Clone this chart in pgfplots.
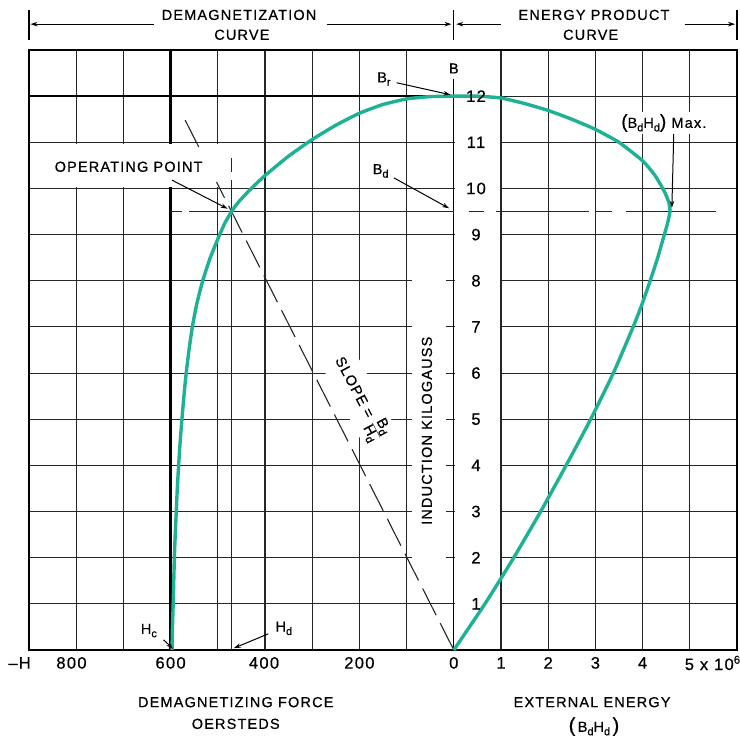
\documentclass[border=0pt]{standalone}
\usepackage{fontspec}
\setmainfont{Liberation Sans}[LetterSpace=8, FakeBold=0.6]
\usepackage{pgfplots}
\pgfplotsset{compat=1.18}
\usetikzlibrary{arrows.meta}
\definecolor{curvecol}{RGB}{30,178,148}
\newcommand\sub[1]{\raisebox{-0.45ex}{\fontsize{11}{11}\selectfont #1}}
\begin{document}
\begin{tikzpicture}[
  lab/.style={font=\fontsize{14.5}{16}\selectfont, inner sep=1pt},
  tk/.style={font=\fontsize{16.5}{17}\selectfont, inner sep=1pt},
  arr/.style={-{Stealth[length=7pt,width=4.5pt]}, line width=1pt},
  gl/.style={black!85, line width=1.1pt},
]
\begin{axis}[
  at={(0pt,0pt)}, anchor=south west,
  scale only axis, width=708pt, height=600pt,
  xmin=-9, xmax=6, ymin=0, ymax=13,
  xtick={-9,...,6}, ytick={0,...,13},
  xticklabels={}, yticklabels={},
  major tick length=0pt,
  grid=major,
  grid style={black!85, line width=1.1pt},
  axis line style={black, line width=1.4pt},
  clip=false,
]
% ---- white bands over the grid
\fill[white] (axis cs:0.015,0.015) rectangle (axis cs:0.985,12.985);
\fill[white] (axis cs:-0.88,1.5) rectangle (axis cs:-0.012,8.5);
\fill[white] (axis cs:-8.985,10.03) rectangle (axis cs:-4.45,10.97);
\fill[white] (axis cs:-0.25,12.38) rectangle (axis cs:0.02,12.985);
\pgfplotsinvokeforeach{2,...,8}{\draw[gl] (axis cs:-0.17,#1) -- (axis cs:0,#1);}
% ---- B axis and heavy lines
\draw[black, line width=1.3pt] (axis cs:0,0) -- (axis cs:0,12.38);
\draw[black, line width=2.5pt] (axis cs:-9,12) -- (axis cs:0,12);
\draw[black, line width=2.5pt] (axis cs:-6,0) -- (axis cs:-6,10.03);
\draw[black, line width=2.5pt] (axis cs:-6,10.97) -- (axis cs:-6,13);
% ---- H_d vertical line
\draw[gl] (axis cs:-4.71,0) -- (axis cs:-4.71,10.18);
\draw[gl] (axis cs:-4.71,10.36) -- (axis cs:-4.71,10.66);
% ---- B_d horizontal (dashed) line
\draw[gl] (axis cs:-6.02,9.5) -- (axis cs:-5.76,9.5);
\draw[gl] (axis cs:-5.61,9.5) -- (axis cs:0,9.5);
\draw[gl] (axis cs:0.32,9.5) -- (axis cs:0.63,9.5);
\draw[gl] (axis cs:0.89,9.5) -- (axis cs:2.86,9.5);
\draw[gl] (axis cs:3.0,9.5) -- (axis cs:3.35,9.5);
\draw[gl] (axis cs:3.64,9.5) -- (axis cs:5.55,9.5);
% ---- slope line
\draw[black!85, line width=1.1pt, dash pattern=on 30pt off 9pt] (axis cs:0,0) -- (axis cs:-5.027,10.14);
\draw[black!85, line width=1.1pt, dash pattern=on 30pt off 9pt] (axis cs:-5.404,10.9) -- (axis cs:-5.726,11.55);
% ---- SLOPE label
\node[lab, rotate=-62, fill=white, inner sep=4pt] at (axis cs:-2.0,5.45) {SLOPE = $\frac{\hbox{B\sub{d}}}{\hbox{H\sub{d}}}$};
% ---- curves
\addplot[curvecol, line width=3.4pt, smooth, tension=0.3] coordinates {
(-5.97,0) (-5.96,0.5) (-5.945,1) (-5.933,1.5) (-5.92,2) (-5.902,2.5) (-5.88,3)
(-5.858,3.5) (-5.83,4) (-5.798,4.5) (-5.76,5) (-5.718,5.5) (-5.67,6) (-5.61,6.5)
(-5.54,7) (-5.445,7.5) (-5.32,8) (-5.16,8.5) (-4.96,9) (-4.85,9.25) (-4.71,9.5)
(-4.55,9.72) (-4.3,9.99) (-4.0,10.28) (-3.5,10.7) (-3.0,11.06) (-2.5,11.37)
(-2.0,11.63) (-1.5,11.82) (-1.0,11.94) (-0.5,11.99) (0,12)
};
\addplot[curvecol, line width=3.4pt, smooth, tension=0.3] coordinates {
(0,12) (0.5,12.0) (1.0,11.96) (1.5,11.84) (2.0,11.69) (2.5,11.5) (3.0,11.28)
(3.5,11.0) (4.0,10.6) (4.25,10.3) (4.4,10.05) (4.5,9.85) (4.56,9.68) (4.58,9.5)
(4.53,9.25) (4.46,9) (4.32,8.5) (4.16,8) (3.99,7.5) (3.8,7) (3.38,6) (2.9,5)
(2.38,4) (1.84,3) (1.27,2) (0.66,1) (0,0)
};
% ---- annotations
\node[lab] at (axis cs:-6.89,10.47) {OPERATING POINT};
\draw[arr] (axis cs:-5.97,10.18) -- (axis cs:-4.79,9.56);
\node[lab] at (axis cs:-1.48,12.37) {B\sub{r}};
\draw[arr] (axis cs:-1.21,12.29) -- (axis cs:-0.07,12.03);
\node[lab] at (axis cs:0,12.6) {B};
\node[lab] at (axis cs:-1.55,10.38) {B\sub{d}};
\draw[arr] (axis cs:-1.27,10.23) -- (axis cs:-0.1,9.57);
\node[lab, fill=white, inner sep=2pt] at (axis cs:4.45,11.42) {{\fontsize{19}{19}\selectfont(}B\sub{d}H\sub{d}{\fontsize{19}{19}\selectfont)} Max.};
\draw[arr] (axis cs:4.66,11.18) -- (axis cs:4.62,9.58);
\node[lab] at (axis cs:-6.46,0.42) {H\sub{c}};
\draw[arr] (axis cs:-6.15,0.22) -- (axis cs:-5.95,0.03);
\node[lab] at (axis cs:-3.6,0.47) {H\sub{d}};
\draw[arr] (axis cs:-3.93,0.35) -- (axis cs:-4.66,0.04);
\node[lab, rotate=90] at (axis cs:-0.57,4.75) {INDUCTION KILOGAUSS};
% ---- B tick labels
\pgfplotsinvokeforeach{1,...,12}{\node[tk] at (axis cs:0.47,#1) {#1};}
% ---- bottom tick labels
\node[tk] at (axis cs:-9.2,-0.28) {--H};
\node[tk] at (axis cs:-8.1,-0.28) {800};
\node[tk] at (axis cs:-6,-0.28) {600};
\node[tk] at (axis cs:-4.02,-0.28) {400};
\node[tk] at (axis cs:-2,-0.28) {200};
\node[tk] at (axis cs:0,-0.28) {0};
\node[tk] at (axis cs:1,-0.28) {1};
\node[tk] at (axis cs:2,-0.28) {2};
\node[tk] at (axis cs:3,-0.28) {3};
\node[tk] at (axis cs:4,-0.28) {4};
\node[tk, anchor=west] at (axis cs:4.87,-0.28) {5 x 10\textsuperscript{6}};
% ---- axis titles
\node[lab] at (axis cs:-4.62,-1.13) {DEMAGNETIZING FORCE};
\node[lab] at (axis cs:-4.62,-1.6) {OERSTEDS};
\node[lab] at (axis cs:2.93,-1.13) {EXTERNAL ENERGY};
\node[lab] at (axis cs:2.97,-1.66) {{\fontsize{20}{20}\selectfont(}\,B\sub{d}H\sub{d}\,{\fontsize{20}{20}\selectfont)}};
% ---- header
\draw[black, line width=1.1pt] (axis cs:-9,13.22) -- (axis cs:-9,13.87);
\draw[black, line width=1.1pt] (axis cs:0,13.22) -- (axis cs:0,13.87);
\draw[black, line width=1.1pt] (axis cs:6,13.22) -- (axis cs:6,13.87);
\draw[arr] (axis cs:-6.36,13.56) -- (axis cs:-8.97,13.56);
\draw[arr] (axis cs:-2.69,13.56) -- (axis cs:-0.05,13.56);
\draw[arr] (axis cs:1.0,13.56) -- (axis cs:0.05,13.56);
\draw[arr] (axis cs:4.89,13.56) -- (axis cs:5.96,13.56);
\node[lab] at (axis cs:-4.55,13.76) {DEMAGNETIZATION};
\node[lab] at (axis cs:-4.49,13.33) {CURVE};
\node[lab] at (axis cs:2.97,13.76) {ENERGY PRODUCT};
\node[lab] at (axis cs:2.9,13.33) {CURVE};
\end{axis}
\pgfresetboundingbox
\useasboundingbox (-29pt,-87pt) rectangle (711pt,650pt);
\end{tikzpicture}
\end{document}
